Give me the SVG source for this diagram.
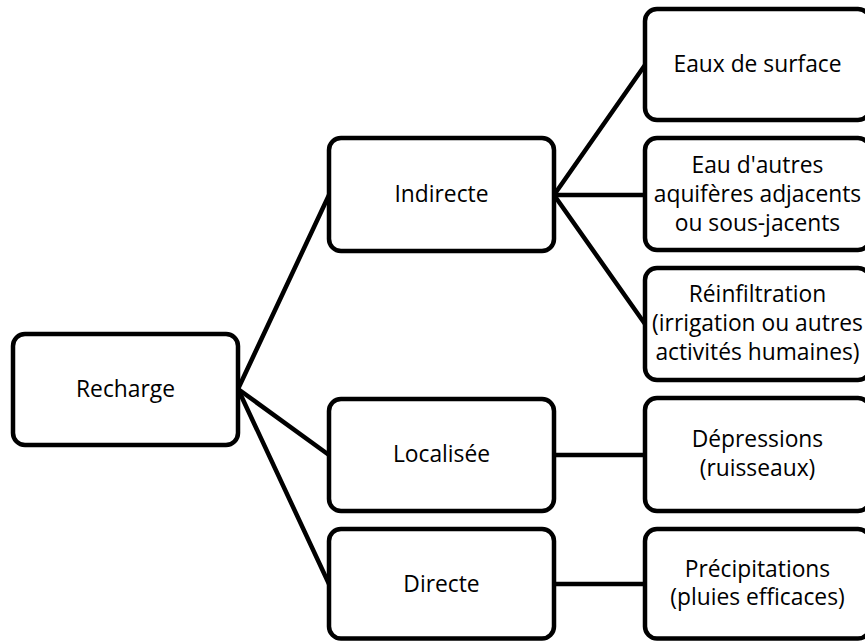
<svg xmlns="http://www.w3.org/2000/svg" width="865" height="641" viewBox="0 0 865 641">
<style>
.box{fill:#fff;stroke:#000;stroke-width:4.5}
.con{stroke:#000;stroke-width:4.5;fill:none;stroke-linecap:round}
text{font-family:"Open Sans","Liberation Sans",sans-serif;font-size:22.8px;fill:#000;text-anchor:middle}
</style>
<rect width="865" height="641" fill="#fff"/>
<g id="connectors">
<line class="con" x1="238" y1="389" x2="329" y2="195"/>
<line class="con" x1="238" y1="389" x2="329" y2="455"/>
<line class="con" x1="238" y1="389" x2="329" y2="584"/>
<line class="con" x1="554" y1="195" x2="645" y2="65"/>
<line class="con" x1="554" y1="195" x2="645" y2="195"/>
<line class="con" x1="554" y1="195" x2="645" y2="324"/>
<line class="con" x1="554" y1="455" x2="645" y2="455"/>
<line class="con" x1="554" y1="584" x2="645" y2="584"/>
</g>
<g id="recharge"><rect class="box" x="13" y="334" width="225" height="111" rx="12"/><text x="125.5" y="397">Recharge</text></g>
<g id="indirecte"><rect class="box" x="329" y="138" width="225" height="113" rx="12"/><text x="441.5" y="202">Indirecte</text></g>
<g id="localisee"><rect class="box" x="329" y="399" width="225" height="112" rx="12"/><text x="441.5" y="462">Localisée</text></g>
<g id="directe"><rect class="box" x="329" y="529" width="225" height="109.5" rx="12"/><text x="441.5" y="592">Directe</text></g>
<g id="eaux-surface"><rect class="box" x="645" y="9" width="225" height="111" rx="12"/><text x="757.5" y="72">Eaux de surface</text></g>
<g id="autres-aquiferes"><rect class="box" x="645" y="138" width="225" height="112" rx="12"/><text x="757.5" y="173">Eau d'autres</text><text x="757.5" y="202">aquifères adjacents</text><text x="757.5" y="231">ou sous-jacents</text></g>
<g id="reinfiltration"><rect class="box" x="645" y="268" width="225" height="112" rx="12"/><text x="757.5" y="302">Réinfiltration</text><text x="757.5" y="331">(irrigation ou autres</text><text x="757.5" y="360">activités humaines)</text></g>
<g id="depressions"><rect class="box" x="645" y="398" width="225" height="113" rx="12"/><text x="757.5" y="447">Dépressions</text><text x="757.5" y="476">(ruisseaux)</text></g>
<g id="precipitations"><rect class="box" x="645" y="529" width="225" height="109.5" rx="12"/><text x="757.5" y="577">Précipitations</text><text x="757.5" y="605">(pluies efficaces)</text></g>
</svg>
